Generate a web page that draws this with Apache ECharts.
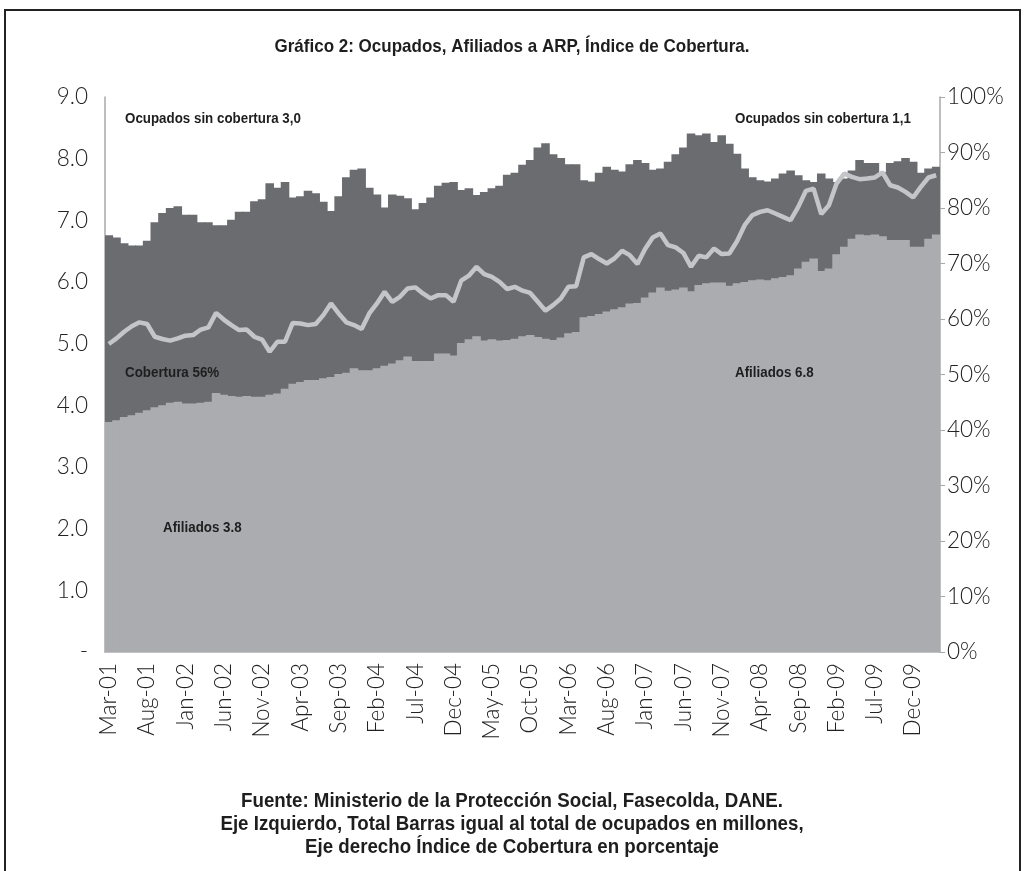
<!DOCTYPE html>
<html>
<head>
<meta charset="utf-8">
<script src="https://cdn.jsdelivr.net/npm/echarts@6/dist/echarts.min.js"></script>
<style>
html,body{margin:0;padding:0;background:#fff;}
#chart{width:1025px;height:871px;}
</style>
</head>
<body>
<div id="chart"></div>
<script>
const categories = ['Mar-01','Apr-01','May-01','Jun-01','Jul-01','Aug-01','Sep-01','Oct-01','Nov-01','Dec-01',
'Jan-02','Feb-02','Mar-02','Apr-02','May-02','Jun-02','Jul-02','Aug-02','Sep-02','Oct-02','Nov-02','Dec-02',
'Jan-03','Feb-03','Mar-03','Apr-03','May-03','Jun-03','Jul-03','Aug-03','Sep-03','Oct-03','Nov-03','Dec-03',
'Jan-04','Feb-04','Mar-04','Apr-04','May-04','Jun-04','Jul-04','Aug-04','Sep-04','Oct-04','Nov-04','Dec-04',
'Jan-05','Feb-05','Mar-05','Apr-05','May-05','Jun-05','Jul-05','Aug-05','Sep-05','Oct-05','Nov-05','Dec-05',
'Jan-06','Feb-06','Mar-06','Apr-06','May-06','Jun-06','Jul-06','Aug-06','Sep-06','Oct-06','Nov-06','Dec-06',
'Jan-07','Feb-07','Mar-07','Apr-07','May-07','Jun-07','Jul-07','Aug-07','Sep-07','Oct-07','Nov-07','Dec-07',
'Jan-08','Feb-08','Mar-08','Apr-08','May-08','Jun-08','Jul-08','Aug-08','Sep-08','Oct-08','Nov-08','Dec-08',
'Jan-09','Feb-09','Mar-09','Apr-09','May-09','Jun-09','Jul-09','Aug-09','Sep-09','Oct-09','Nov-09','Dec-09',
'Jan-10','Feb-10','Mar-10'];

// Total ocupados (millones) = top of bars
const ocupados = [6.76,6.72,6.63,6.59,6.59,6.67,6.97,7.12,7.20,7.23,
7.09,7.09,6.97,6.97,6.92,6.92,7.01,7.14,7.14,7.31,7.34,7.60,
7.53,7.62,7.37,7.39,7.48,7.44,7.30,7.15,7.39,7.70,7.82,7.84,
7.53,7.42,7.21,7.42,7.40,7.36,7.18,7.28,7.37,7.56,7.61,7.62,
7.49,7.52,7.41,7.46,7.52,7.56,7.74,7.77,7.90,7.98,8.18,8.25,
8.07,8.01,7.91,7.91,7.65,7.63,7.77,7.87,7.82,7.79,7.91,7.98,
7.93,7.82,7.84,7.95,8.07,8.18,8.41,8.38,8.41,8.27,8.38,8.24,
8.08,7.84,7.70,7.65,7.63,7.68,7.76,7.81,7.73,7.65,7.62,7.76,
7.68,7.62,7.68,7.81,7.98,7.93,7.93,7.78,7.93,7.96,8.01,7.95,
7.77,7.84,7.87];

// Afiliados a ARP (millones)
const afiliados = [3.73,3.76,3.81,3.84,3.88,3.92,3.97,4.00,4.04,4.06,
4.03,4.03,4.04,4.06,4.20,4.17,4.15,4.14,4.15,4.14,4.14,4.17,
4.19,4.27,4.35,4.38,4.41,4.41,4.44,4.46,4.51,4.53,4.60,4.57,
4.57,4.60,4.64,4.68,4.73,4.79,4.72,4.72,4.72,4.84,4.84,4.81,
5.01,5.07,5.12,5.05,5.07,5.05,5.06,5.08,5.12,5.14,5.11,5.08,
5.06,5.10,5.17,5.19,5.43,5.45,5.48,5.52,5.56,5.59,5.65,5.66,
5.75,5.83,5.91,5.86,5.88,5.91,5.85,5.95,5.98,5.99,5.99,5.94,
5.98,6.00,6.03,6.04,6.03,6.06,6.08,6.11,6.22,6.33,6.38,6.18,
6.22,6.45,6.57,6.70,6.77,6.76,6.77,6.74,6.68,6.68,6.68,6.57,
6.57,6.70,6.77];

// Indice de cobertura (%)
const cobertura = [55.5,56.5,57.7,58.7,59.4,59.1,56.8,56.4,56.1,56.5,
57.0,57.1,58.1,58.5,61.1,59.9,58.9,58.0,58.1,56.8,56.3,54.1,
55.9,55.9,59.3,59.2,58.9,59.1,60.7,62.8,61.0,59.4,58.9,58.2,
61.0,62.8,64.9,63.1,64.0,65.5,65.7,64.6,63.7,64.3,64.3,63.1,
66.9,67.8,69.4,68.1,67.6,66.7,65.4,65.8,65.1,64.7,63.1,61.5,
62.5,63.7,65.8,65.9,71.1,71.7,70.8,70.0,70.9,72.3,71.5,69.9,
72.6,74.7,75.4,73.3,72.9,71.9,69.4,71.4,71.1,72.7,71.7,71.8,
74.0,76.9,78.7,79.3,79.6,79.0,78.4,77.8,80.2,83.1,83.5,78.9,
80.5,84.4,86.2,85.6,85.2,85.3,85.5,86.4,84.1,83.7,82.9,81.9,
83.8,85.5,85.9];

const titleText = 'Gráfico 2: Ocupados, Afiliados a ARP, Índice de Cobertura.';
const footerLines = [
  'Fuente: Ministerio de la Protección Social, Fasecolda, DANE.',
  'Eje Izquierdo, Total Barras igual al total de ocupados en millones,',
  'Eje derecho Índice de Cobertura en porcentaje'
];

const boldFont = '"Liberation Sans", Arial, sans-serif';
const axisFont = 'Lato, "Liberation Sans", sans-serif';
const DARK = '#6b6c70', LIGHT = '#aaacb0', LINE = '#c3c5c8';

const chart = echarts.init(document.getElementById('chart'), null, {renderer: 'canvas'});

function txt(text, x, y, size, align, sx) {
  return {type: 'text', x: x, y: y, z: 100, scaleX: sx || 1,
    style: {text: text, fill: '#1e1e1e', font: 'bold ' + size + 'px ' + boldFont,
      textAlign: align || 'left', textVerticalAlign: 'middle'}};
}

const axisLabelBase = {fontFamily: axisFont, fontWeight: 300, fontSize: 22.5, color: '#222'};

const option = {
  backgroundColor: '#fff',
  animation: false,
  grid: {left: 105, right: 85, top: 97, bottom: 219, containLabel: false},
  xAxis: {
    type: 'category', data: categories, boundaryGap: true,
    axisLine: {show: true, lineStyle: {color: '#b0b0b0', width: 1.5}},
    axisTick: {show: false},
    axisLabel: Object.assign({interval: 4, rotate: 90, margin: 11}, axisLabelBase)
  },
  yAxis: [
    {type: 'value', min: 0, max: 9, interval: 1, position: 'left',
     axisLine: {show: true, lineStyle: {color: '#a8a8a8', width: 1.5}},
     axisTick: {show: false}, splitLine: {show: false},
     axisLabel: Object.assign({margin: 17, formatter: v => v === 0 ? '-' : v.toFixed(1)}, axisLabelBase)},
    {type: 'value', min: 0, max: 100, interval: 10, position: 'right',
     axisLine: {show: true, lineStyle: {color: '#a8a8a8', width: 1.5}},
     axisTick: {show: true, length: 5, lineStyle: {color: '#a8a8a8'}}, splitLine: {show: false},
     axisLabel: Object.assign({margin: 7, formatter: '{value}%'}, axisLabelBase)}
  ],
  series: [
    {name: 'Ocupados', type: 'bar', data: ocupados, barGap: '-100%', barWidth: '112%',
     itemStyle: {color: DARK}, z: 2},
    {name: 'Afiliados', type: 'bar', data: afiliados, barGap: '-100%', barWidth: '112%',
     itemStyle: {color: LIGHT}, z: 3},
    {name: 'Cobertura', type: 'line', yAxisIndex: 1, data: cobertura, symbol: 'none',
     lineStyle: {color: LINE, width: 4.5}, z: 5}
  ],
  graphic: [
    {type: 'rect', z: 0, shape: {x: 5, y: 10, width: 1015, height: 900},
     style: {fill: 'none', stroke: '#222', lineWidth: 2}},
    txt(titleText, 512, 47, 19, 'center', 0.895),
    txt('Ocupados sin cobertura 3,0', 125, 119, 15, 'left', 0.89),
    txt('Ocupados sin cobertura 1,1', 735, 119, 15, 'left', 0.89),
    txt('Cobertura 56%', 125, 373, 15, 'left', 0.89),
    txt('Afiliados 3.8', 163, 528, 15, 'left', 0.89),
    txt('Afiliados 6.8', 735, 373, 15, 'left', 0.89),
    txt(footerLines[0], 512, 802, 19.5, 'center', 0.96),
    txt(footerLines[1], 512, 825, 19.5, 'center', 0.96),
    txt(footerLines[2], 512, 848, 19.5, 'center', 0.96)
  ]
};
chart.setOption(option);
</script>
</body>
</html>
